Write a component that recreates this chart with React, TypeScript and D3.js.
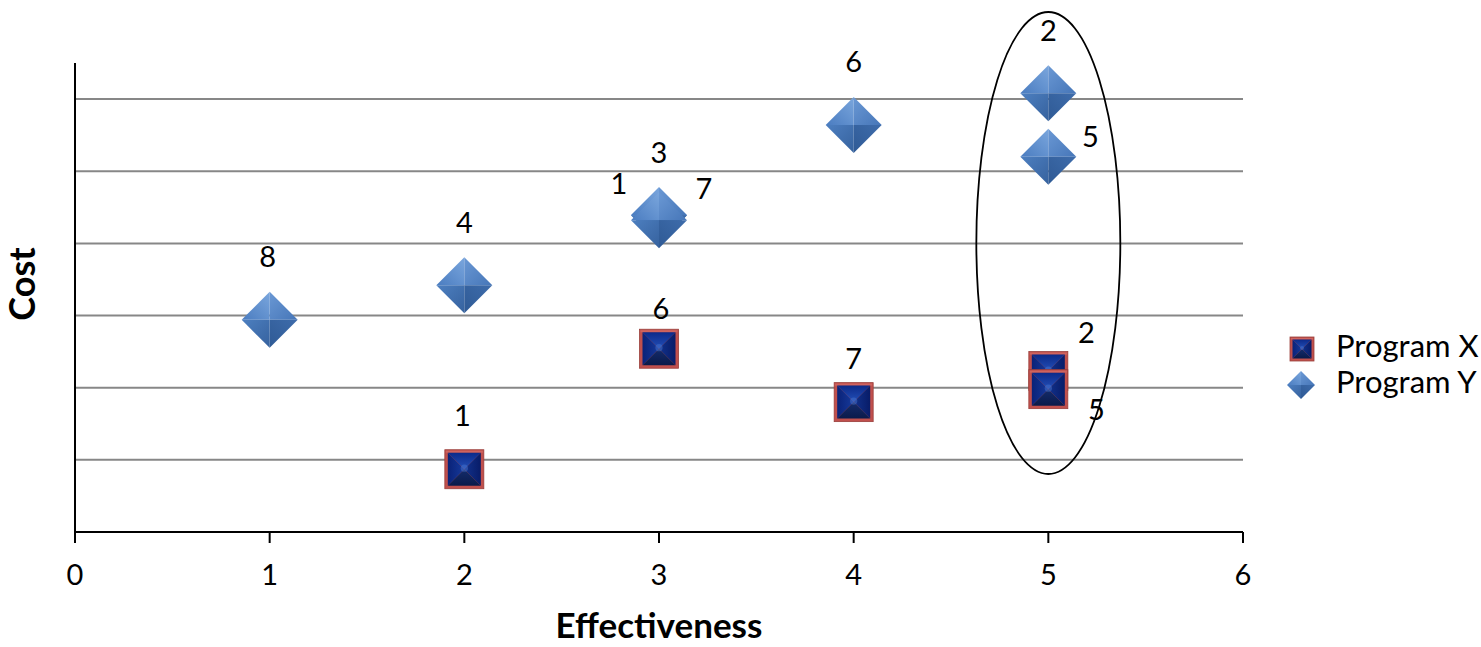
import React from "react";
import * as d3 from "d3";

const xTicks = [0, 1, 2, 3, 4, 5, 6];
const yGrid = [1, 2, 3, 4, 5, 6];

const programXLabels = ["1", "6", "7", "2", "5"];
const programXEff = [2, 3, 4, 5, 5];
const programXCost = [0.87, 2.54, 1.8, 2.23, 1.98];

const programYLabels = ["8", "4", "1", "3", "7", "6", "2", "5"];
const programYEff = [1, 2, 3, 3, 3, 4, 5, 5];
const programYCost = [2.94, 3.42, 4.39, 4.39, 4.32, 5.64, 6.08, 5.2];

// label offsets (px) relative to marker center
const xLabelOff: [number, number][] = [[-2, -51], [2, -37], [0, -40], [38, -35], [48, 24]];
const yLabelOff: [number, number][] = [[-2, -60], [0, -60], [-40, -29], [0, -60], [45, -29], [0, -60], [0, -60], [42, -17]];

const W = 1481, H = 647;
const FONT = "Lato, 'Open Sans', sans-serif";

function Diamond({ cx, cy, r }: { cx: number; cy: number; r: number }) {
  const T = [cx, cy - r], L = [cx - r, cy], R = [cx + r, cy], B = [cx, cy + r];
  const C = [cx, cy];
  const p = (a: number[][]) => a.map((q) => q.join(",")).join(" ");
  return (
    <g>
      <polygon points={p([T, L, C])} fill="url(#dTL)" />
      <polygon points={p([T, R, C])} fill="url(#dTR)" />
      <polygon points={p([L, B, C])} fill="url(#dBL)" />
      <polygon points={p([R, B, C])} fill="url(#dBR)" />
    </g>
  );
}

function Square({ cx, cy, h, bw }: { cx: number; cy: number; h: number; bw: number }) {
  const p = (a: number[][]) => a.map((q) => q.join(",")).join(" ");
  const o = h, n = h - bw;
  const TL = [cx - n, cy - n], TR = [cx + n, cy - n], BL = [cx - n, cy + n], BR = [cx + n, cy + n];
  const C = [cx, cy];
  return (
    <g>
      <rect x={cx - o} y={cy - o} width={2 * o} height={2 * o} fill="#c0504d" stroke="#9a3f3b" strokeWidth={0.8} />
      <rect x={cx - o + 1} y={cy - o + 1} width={2 * o - 2} height={bw - 1} fill="#d9716c" opacity={0.6} />
      <polygon points={p([TL, TR, C])} fill="url(#sT)" />
      <polygon points={p([TL, BL, C])} fill="url(#sL)" />
      <polygon points={p([TR, BR, C])} fill="url(#sR)" />
      <polygon points={p([BL, BR, C])} fill="url(#sB)" />
      <circle cx={cx} cy={cy - 1} r={n * 0.22} fill="#4b78d0" opacity={0.45} />
    </g>
  );
}

export default function App() {
  const x = d3.scaleLinear().domain([0, 6]).range([75, 1243]);
  const y = d3.scaleLinear().domain([0, 6.5]).range([532, 63]);

  return (
    <svg width={W} height={H} style={{ position: "absolute", left: 0, top: 0, background: "#fff" }}>
      <defs>
        <linearGradient id="dTL" x1="0" y1="1" x2="1" y2="0">
          <stop offset="0" stopColor="#4a7cc0" />
          <stop offset="1" stopColor="#7aa6dd" />
        </linearGradient>
        <linearGradient id="dTR" x1="1" y1="1" x2="0" y2="0">
          <stop offset="0" stopColor="#4676b8" />
          <stop offset="1" stopColor="#6a98d4" />
        </linearGradient>
        <linearGradient id="dBL" x1="0" y1="0" x2="1" y2="1">
          <stop offset="0" stopColor="#4d7fc0" />
          <stop offset="1" stopColor="#36629e" />
        </linearGradient>
        <linearGradient id="dBR" x1="1" y1="0" x2="0" y2="1">
          <stop offset="0" stopColor="#3e6cab" />
          <stop offset="1" stopColor="#2f5a95" />
        </linearGradient>
        <linearGradient id="sT" x1="0" y1="0" x2="0" y2="1">
          <stop offset="0" stopColor="#0c2a8a" />
          <stop offset="1" stopColor="#2450b8" />
        </linearGradient>
        <linearGradient id="sL" x1="0" y1="0" x2="1" y2="0">
          <stop offset="0" stopColor="#0a2278" />
          <stop offset="1" stopColor="#163a9c" />
        </linearGradient>
        <linearGradient id="sR" x1="1" y1="0" x2="0" y2="0">
          <stop offset="0" stopColor="#081c68" />
          <stop offset="1" stopColor="#12328c" />
        </linearGradient>
        <linearGradient id="sB" x1="0" y1="1" x2="0" y2="0">
          <stop offset="0" stopColor="#0a1a4a" />
          <stop offset="1" stopColor="#142c6c" />
        </linearGradient>
      </defs>

      {/* gridlines */}
      {yGrid.map((g) => (
        <line key={g} x1={x(0)} x2={x(6)} y1={y(g)} y2={y(g)} stroke="#878787" strokeWidth={2} />
      ))}

      {/* axes */}
      <line x1={x(0)} x2={x(0)} y1={y(6.5)} y2={y(0)} stroke="#000" strokeWidth={2} />
      <line x1={x(0)} x2={x(6)} y1={y(0)} y2={y(0)} stroke="#000" strokeWidth={2} />
      {xTicks.map((t) => (
        <g key={t}>
          <line x1={x(t)} x2={x(t)} y1={y(0)} y2={y(0) + 11} stroke="#000" strokeWidth={2} />
          <text x={x(t)} y={y(0) + 46} fontSize={29} fontFamily={FONT} textAnchor="middle" dominantBaseline="middle">
            {t}
          </text>
        </g>
      ))}

      <text x={659} y={629} fontSize={35} fontWeight="bold" fontFamily={FONT} textAnchor="middle" dominantBaseline="middle">
        Effectiveness
      </text>
      <text transform="translate(26,284) rotate(-90)" fontSize={36} fontWeight="bold" fontFamily={FONT} textAnchor="middle" dominantBaseline="middle">
        Cost
      </text>

      {/* Program Y diamonds */}
      {programYEff.map((e, i) => (
        <Diamond key={"y" + i} cx={x(e)} cy={y(programYCost[i])} r={28} />
      ))}
      {programYEff.map((e, i) => (
        <text key={"yl" + i} x={x(e) + yLabelOff[i][0]} y={y(programYCost[i]) + yLabelOff[i][1]} fontSize={29} fontFamily={FONT} textAnchor="middle" dominantBaseline="middle">
          {programYLabels[i]}
        </text>
      ))}

      {/* Program X squares */}
      {programXEff.map((e, i) => (
        <Square key={"x" + i} cx={x(e)} cy={y(programXCost[i])} h={19.5} bw={3} />
      ))}
      {programXEff.map((e, i) => (
        <text key={"xl" + i} x={x(e) + xLabelOff[i][0]} y={y(programXCost[i]) + xLabelOff[i][1]} fontSize={29} fontFamily={FONT} textAnchor="middle" dominantBaseline="middle">
          {programXLabels[i]}
        </text>
      ))}

      {/* ellipse */}
      <ellipse cx={x(5)} cy={243} rx={72} ry={231} fill="none" stroke="#000" strokeWidth={1.8} />

      {/* legend */}
      <Square cx={1302} cy={349} h={12} bw={2.5} />
      <text x={1336} y={349} fontSize={31} fontFamily={FONT} dominantBaseline="middle">Program X</text>
      <Diamond cx={1301} cy={385} r={14} />
      <text x={1336} y={385} fontSize={31} fontFamily={FONT} dominantBaseline="middle">Program Y</text>
    </svg>
  );
}
